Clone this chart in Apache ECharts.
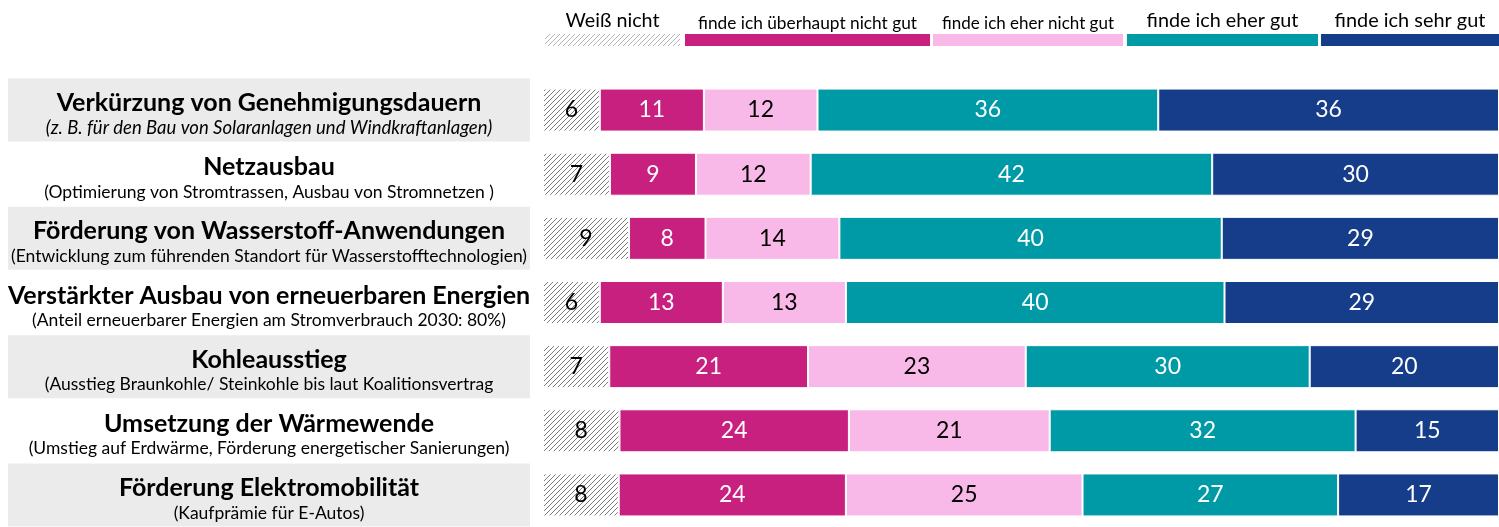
<!DOCTYPE html>
<html>
<head>
<meta charset="utf-8">
<script src="https://cdn.jsdelivr.net/npm/echarts@6/dist/echarts.min.js"></script>
<style>
  html, body { margin: 0; padding: 0; background: #fff; }
  #chart { width: 1499px; height: 527px; }
</style>
</head>
<body>
<div id="chart"></div>
<script>
var titles = [
    'Verkürzung von Genehmigungsdauern',
    'Netzausbau',
    'Förderung von Wasserstoff-Anwendungen',
    'Verstärkter Ausbau von erneuerbaren Energien',
    'Kohleausstieg',
    'Umsetzung der Wärmewende',
    'Förderung Elektromobilität'
];
var subtitles = [
    '(z. B. für den Bau von Solaranlagen und Windkraftanlagen)',
    '(Optimierung von Stromtrassen, Ausbau von Stromnetzen )',
    '(Entwicklung zum führenden Standort für Wasserstofftechnologien)',
    '(Anteil erneuerbarer Energien am Stromverbrauch 2030: 80%)',
    '(Ausstieg Braunkohle/ Steinkohle bis laut Koalitionsvertrag',
    '(Umstieg auf Erdwärme, Förderung energetischer Sanierungen)',
    '(Kaufprämie für E-Autos)'
];
var seriesNames = ['Weiß nicht', 'finde ich überhaupt nicht gut', 'finde ich eher nicht gut', 'finde ich eher gut', 'finde ich sehr gut'];
var weissNicht      = [6, 7, 9, 6, 7, 8, 8];
var ueberhauptNicht = [11, 9, 8, 13, 21, 24, 24];
var eherNicht       = [12, 12, 14, 13, 23, 21, 25];
var eherGut         = [36, 42, 40, 40, 30, 32, 27];
var sehrGut         = [36, 30, 29, 29, 20, 15, 17];

var FONT = 'Lato';

// hatch pattern for "Weiß nicht"
function makeHatch(color) {
    var c = document.createElement('canvas');
    c.width = 5; c.height = 5;
    var ctx = c.getContext('2d');
    ctx.fillStyle = '#fff';
    ctx.fillRect(0, 0, 5, 5);
    ctx.strokeStyle = color;
    ctx.lineWidth = 1;
    ctx.beginPath();
    ctx.moveTo(-1, 6); ctx.lineTo(6, -1);
    ctx.moveTo(-1, 1); ctx.lineTo(1, -1);
    ctx.moveTo(4, 6); ctx.lineTo(6, 4);
    ctx.stroke();
    return c;
}
var hatchBar = makeHatch('#7a7a7a');
var hatchLegend = makeHatch('#b4b4b4');

var allData = [weissNicht, ueberhauptNicht, eherNicht, eherGut, sehrGut];
var colors = [{ image: hatchBar, repeat: 'repeat' }, '#c8207f', '#f8b9e8', '#009aa6', '#153d8a'];
var labelColors = ['#000', '#fff', '#000', '#fff', '#fff'];

// each row fills the full width
var totals = titles.map(function (t, i) {
    var s = 0;
    for (var k = 0; k < allData.length; k++) s += allData[k][i];
    return s;
});

var series = [];
for (var k = 0; k < allData.length; k++) {
    (function (k) {
        series.push({
            name: seriesNames[k],
            type: 'bar',
            stack: 'total',
            barWidth: 43,
            data: allData[k].map(function (v, i) {
                return { value: v / totals[i] * 100, raw: v };
            }),
            itemStyle: { color: colors[k], borderColor: '#fff', borderWidth: 1 },
            label: {
                show: true,
                position: 'inside',
                color: labelColors[k],
                fontFamily: FONT,
                fontSize: 23,
                formatter: function (p) { return p.data.raw; }
            },
            emphasis: { disabled: true }
        });
    })(k);
}

// grey boxes with the item texts on the left (every second row)
series.push({
    type: 'bar',
    xAxisIndex: 1,
    yAxisIndex: 1,
    barWidth: 63,
    silent: true,
    data: titles.map(function (t, i) {
        return { value: 1, itemStyle: { color: i % 2 === 0 ? '#ebebeb' : 'rgba(0,0,0,0)' } };
    }),
    label: {
        show: true,
        position: 'inside',
        color: '#000',
        formatter: function (p) {
            var i = p.dataIndex;
            return '{t|' + titles[i] + '}\n{' + (i === 0 ? 'si' : 's') + '|' + subtitles[i] + '}';
        },
        rich: {
            t: { fontFamily: FONT, fontWeight: 'bold', fontSize: 25, lineHeight: 36, color: '#000' },
            s: { fontFamily: FONT, fontSize: 17.5, lineHeight: 14, color: '#000' },
            si: { fontFamily: FONT, fontStyle: 'italic', fontSize: 18.5, lineHeight: 14, color: '#000' }
        }
    }
});

// legend drawn as text above wide colour patches
var legendX = [545, 685, 933, 1127, 1321];
var legendW = [135, 245, 190, 191, 178];
var legendFs = [19.7, 17.3, 17, 19.8, 19.9];
var legendY = [31, 32, 32, 31, 31];
var legendFill = [{ image: hatchLegend, repeat: 'repeat' }, '#c8207f', '#f8b9e8', '#009aa6', '#153d8a'];
var graphics = [];
for (var g = 0; g < seriesNames.length; g++) {
    graphics.push({
        type: 'rect', left: legendX[g], top: 34,
        shape: { width: legendW[g], height: 12 },
        style: { fill: legendFill[g] }
    });
    graphics.push({
        type: 'text', x: legendX[g] + legendW[g] / 2, y: legendY[g],
        style: {
            text: seriesNames[g], fill: '#000', font: legendFs[g] + 'px ' + FONT,
            align: 'center', verticalAlign: 'bottom'
        }
    });
}

var chart = echarts.init(document.getElementById('chart'));
chart.setOption({
    animation: false,
    grid: [
        { left: 543, right: 0, top: 78, height: 454 },
        { left: 8, width: 522, top: 78, height: 454 }
    ],
    xAxis: [
        { type: 'value', min: 0, max: 100, show: false, gridIndex: 0 },
        { type: 'value', min: 0, max: 1, show: false, gridIndex: 1 }
    ],
    yAxis: [
        { type: 'category', inverse: true, data: titles, show: false, gridIndex: 0 },
        { type: 'category', inverse: true, data: titles, show: false, gridIndex: 1 }
    ],
    graphic: graphics,
    series: series
});
</script>
</body>
</html>
